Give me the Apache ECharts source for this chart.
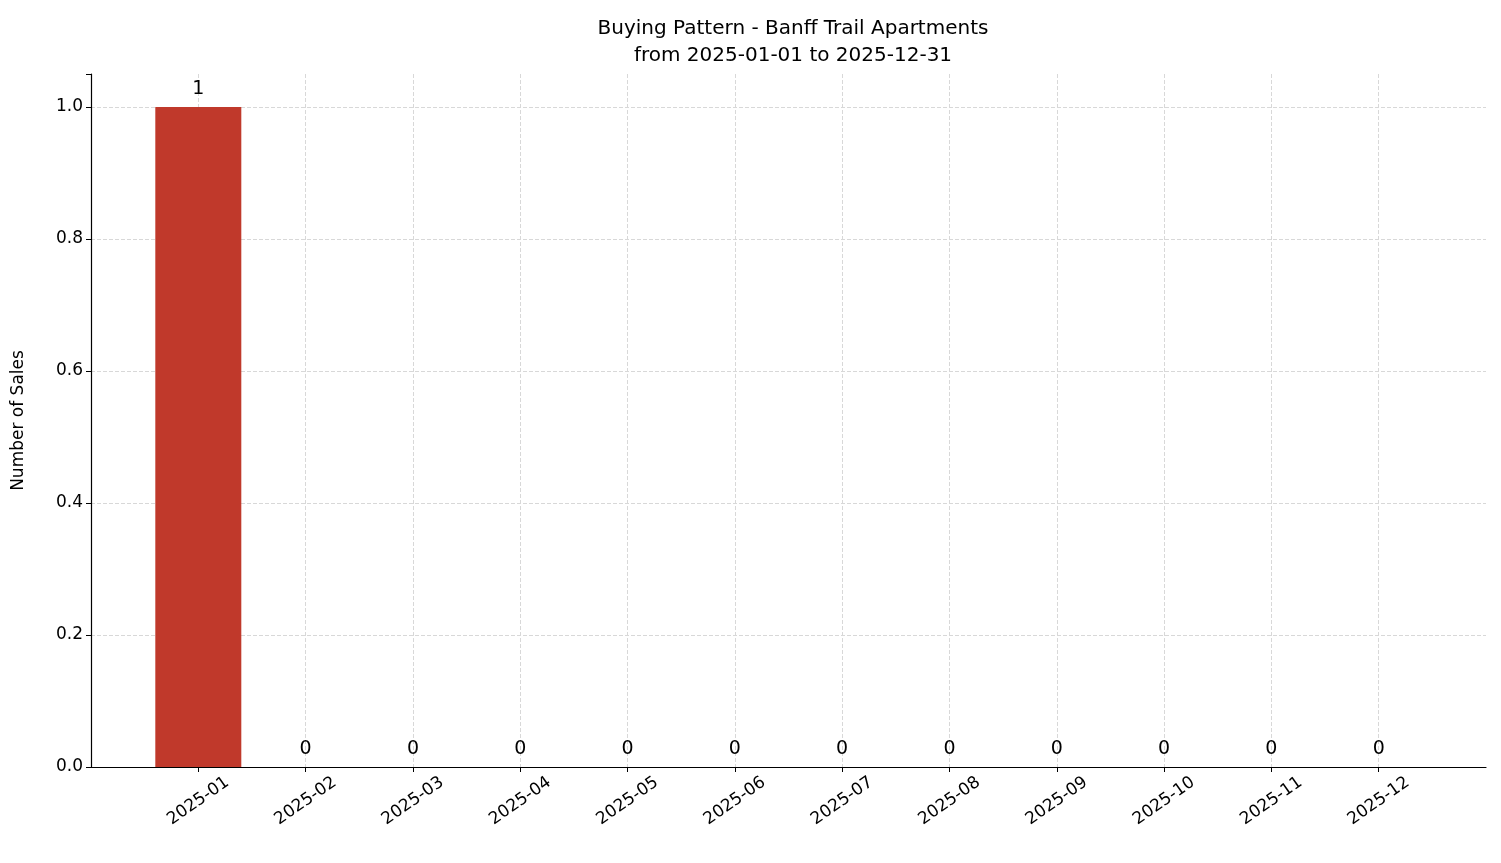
<!DOCTYPE html>
<html>
<head>
<meta charset="utf-8">
<script src="https://cdn.jsdelivr.net/npm/echarts@6/dist/echarts.min.js"></script>
<style>html,body{margin:0;padding:0;background:#fff}#main{width:1501px;height:863px}</style>
</head>
<body>
<div id="main"></div>
<script>
// months shown on the x axis, padded with blank slots at each end
var months = ['', '2025-01', '2025-02', '2025-03', '2025-04', '2025-05', '2025-06',
              '2025-07', '2025-08', '2025-09', '2025-10', '2025-11', '2025-12', ''];
var sales = [null, 1, 0, 0, 0, 0, 0, 0, 0, 0, 0, 0, 0, null];

var font = 'DejaVu Sans';
var grid = '#d8d8d8';
var myChart = echarts.init(document.getElementById('main'));
var option = {
    animation: false,
    backgroundColor: '#fff',
    title: {
        text: 'Buying Pattern - Banff Trail Apartments\nfrom 2025-01-01 to 2025-12-31',
        left: 788, top: 10, textAlign: 'center',
        textStyle: { fontFamily: font, fontSize: 20, fontWeight: 'normal', color: '#000', lineHeight: 27 }
    },
    grid: { left: 91, right: 15, top: 74, bottom: 96 },
    xAxis: {
        type: 'category',
        data: months,
        boundaryGap: false,
        axisLine: { lineStyle: { color: '#000', width: 1.2 } },
        axisTick: { length: 5, lineStyle: { color: '#000' }, interval: function (i, v) { return v !== ''; } },
        axisLabel: { rotate: 35, interval: 0, color: '#000', fontFamily: font, fontSize: 17,
                     align: 'center', verticalAlign: 'middle', margin: 34 },
        splitLine: { show: true, interval: function (i, v) { return v !== ''; },
                     lineStyle: { type: 'dashed', color: grid } }
    },
    yAxis: {
        type: 'value',
        min: 0, max: 1.05, interval: 0.2,
        name: 'Number of Sales',
        nameLocation: 'middle', nameGap: 64,
        nameTextStyle: { fontFamily: font, fontSize: 17, color: '#000' },
        axisLine: { show: true, lineStyle: { color: '#000', width: 1.2 } },
        axisTick: { show: true, length: 5, lineStyle: { color: '#000' } },
        axisLabel: { color: '#000', fontFamily: font, fontSize: 17,
                     formatter: function (v) { return v > 1.01 ? '' : v.toFixed(1); } },
        splitLine: { show: true, lineStyle: { type: 'dashed',
                     color: [grid, grid, grid, grid, grid, grid, 'rgba(0,0,0,0)'] } }
    },
    series: [{
        type: 'bar',
        data: sales,
        barWidth: 86,
        itemStyle: { color: '#c0392b' },
        label: { show: true, position: 'top', distance: 8, color: '#000', fontFamily: font, fontSize: 19 },
        z: 1
    }]
};
myChart.setOption(option);
</script>
</body>
</html>
